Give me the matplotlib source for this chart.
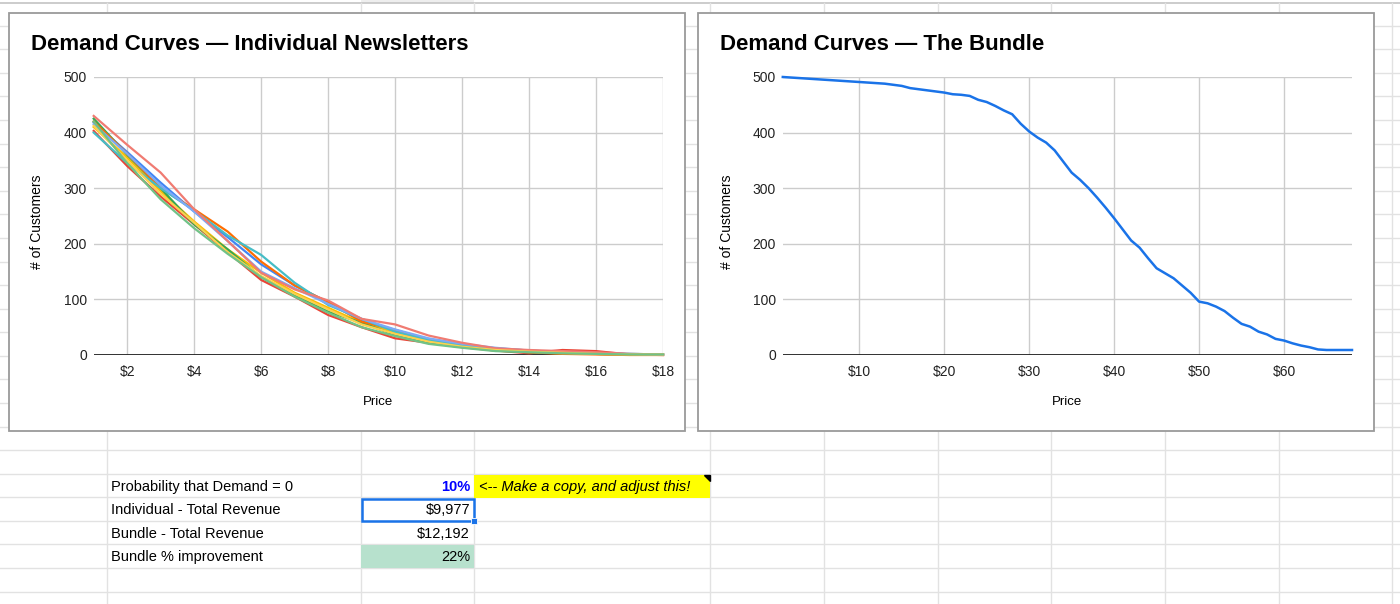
import numpy as np
import matplotlib
matplotlib.use("Agg")
import matplotlib.pyplot as plt
from matplotlib.patches import Rectangle

plt.rcParams['font.family'] = ['Liberation Sans', 'DejaVu Sans']

# ---------------- data ----------------
ind_prices = list(range(1, 19))
ind_blue = [418, 365, 310, 258, 212, 163, 125, 95, 62, 45, 28, 18, 11, 7, 4, 2, 1, 1]
ind_red = [403, 340, 285, 235, 185, 135, 105, 72, 50, 30, 22, 14, 8, 3, 9, 7, 1, 0]
ind_yellow = [410, 355, 295, 240, 190, 148, 112, 85, 58, 40, 25, 17, 10, 6, 4, 2, 1, 1]
ind_green = [425, 360, 300, 235, 190, 140, 108, 78, 58, 36, 22, 15, 8, 5, 3, 2, 1, 1]
ind_orange = [420, 362, 300, 262, 222, 168, 125, 95, 60, 45, 28, 18, 11, 5, 2, 1, 0, 0]
ind_teal = [400, 345, 300, 260, 215, 180, 130, 90, 65, 42, 27, 18, 12, 8, 5, 3, 2, 1]
ind_lightblue = [415, 362, 305, 258, 205, 150, 120, 92, 65, 46, 30, 20, 13, 8, 5, 3, 2, 1]
ind_lightred = [430, 378, 328, 262, 205, 148, 118, 98, 65, 55, 35, 22, 12, 9, 7, 5, 2, 1]
ind_lightyellow = [412, 350, 290, 238, 185, 142, 110, 82, 55, 38, 24, 15, 9, 6, 4, 2, 1, 1]
ind_lightgreen = [420, 345, 280, 228, 182, 140, 105, 76, 50, 34, 20, 13, 7, 5, 3, 2, 1, 1]

bundle_prices = list(range(1, 69))
bundle_demand = [500, 499, 498, 497, 496, 495, 494, 493, 492, 491,
                 490, 489, 488, 486, 484, 480, 478, 476, 474, 472,
                 469, 468, 466, 459, 455, 448, 440, 433, 416, 402,
                 391, 382, 368, 348, 328, 315, 300, 283, 265, 246,
                 226, 206, 193, 174, 156, 147, 138, 125, 112, 96,
                 93, 87, 79, 67, 56, 51, 42, 37, 29, 26,
                 21, 17, 14, 10, 9, 9, 9, 9]

ind_xticks = [2, 4, 6, 8, 10, 12, 14, 16, 18]
bundle_xticks = [10, 20, 30, 40, 50, 60]
yticks = [0, 100, 200, 300, 400, 500]

table_labels = ["Probability that Demand = 0", "Individual - Total Revenue",
                "Bundle - Total Revenue", "Bundle % improvement"]
table_values = ["10%", "$9,977", "$12,192", "22%"]
note_text = "<-- Make a copy, and adjust this!"

series = [
    (ind_blue, '#4285F4'), (ind_red, '#EA4335'), (ind_yellow, '#FBBC04'),
    (ind_green, '#34A853'), (ind_orange, '#FF6D01'), (ind_teal, '#46BDC6'),
    (ind_lightblue, '#7BAAF7'), (ind_lightred, '#F07B72'),
    (ind_lightyellow, '#FCD04F'), (ind_lightgreen, '#71C287'),
]

# ---------------- figure ----------------
W, H = 1400, 604
fig = plt.figure(figsize=(W / 100, H / 100), dpi=100)
fig.patch.set_facecolor('white')

bg = fig.add_axes([0, 0, 1, 1], zorder=0)
bg.set_xlim(0, W)
bg.set_ylim(H, 0)
bg.axis('off')

grid_c = '#e2e2e2'
# spreadsheet rows / columns
bg.add_patch(Rectangle((361, 0), 113, 2.5, facecolor='#eeeeee', edgecolor='none'))
bg.plot([0, W], [2.5, 2.5], color='#c4c4c4', lw=1.2)
for y in np.arange(25.7, 600, 23.58):
    bg.plot([0, W], [y, y], color=grid_c, lw=1.0)
for x in [107, 361, 474, 710, 824, 937.5, 1051, 1165, 1278.6, 1391.5]:
    bg.plot([x, x], [2.5, H], color=grid_c, lw=1.0)

# chart boxes
for x0 in [9, 698]:
    bg.add_patch(Rectangle((x0, 12.5), 676, 418.5, facecolor='white',
                           edgecolor='#9a9a9a', lw=1.3, zorder=3))

# titles
bg.text(31, 45, "Demand Curves \u2014 Individual Newsletters", fontsize=16,
        fontweight='bold', va='center', ha='left', zorder=4)
bg.text(720, 45, "Demand Curves \u2014 The Bundle", fontsize=16,
        fontweight='bold', va='center', ha='left', zorder=4)
# axis labels
bg.text(37, 222, "# of Customers", fontsize=10, rotation=90, va='center',
        ha='center', zorder=4)
bg.text(727, 222, "# of Customers", fontsize=10, rotation=90, va='center',
        ha='center', zorder=4)
bg.text(378, 402, "Price", fontsize=9.5, va='center', ha='center', zorder=4)
bg.text(1067, 402, "Price", fontsize=9.5, va='center', ha='center', zorder=4)

# ---------------- table ----------------
row_y = [487, 510, 534, 557]
for lab, val, y in zip(table_labels, table_values, row_y):
    bg.text(111, y, lab, fontsize=10.5, va='center', ha='left', zorder=4)
# green cell
bg.add_patch(Rectangle((361, 545), 113, 23, facecolor='#b7e1cd', edgecolor='none', zorder=2))
# yellow note cell
bg.add_patch(Rectangle((474, 474.5), 236, 23, facecolor='#ffff00', edgecolor='none', zorder=2))
bg.fill([704, 710, 710], [474.5, 474.5, 480.5], color='black', zorder=3)
bg.text(479, 487, note_text, fontsize=10.5, style='italic', va='center', ha='left', zorder=4)
for i, (val, y) in enumerate(zip(table_values, row_y)):
    if i == 0:
        bg.text(470, y, val, fontsize=10.5, fontweight='bold', color='#0000ff',
                va='center', ha='right', zorder=4)
    else:
        bg.text(470, y, val, fontsize=10.5, va='center', ha='right', zorder=4)
# selection box
bg.add_patch(Rectangle((362, 498.5), 112, 22.5, facecolor='none', edgecolor='#1a73e8',
                       lw=1.8, zorder=4))
bg.add_patch(Rectangle((471, 518), 6, 6, facecolor='#1a73e8', edgecolor='white',
                       lw=0.6, zorder=5))


def px_axes(x0, x1, ytop, ybot):
    return fig.add_axes([x0 / W, 1 - ybot / H, (x1 - x0) / W, (ybot - ytop) / H], zorder=5)


def style(ax, xlim, xticks):
    ax.set_xlim(*xlim)
    ax.set_ylim(0, 500)
    ax.set_xticks(xticks)
    ax.set_xticklabels([f"${t}" for t in xticks])
    ax.set_yticks(yticks)
    ax.set_yticklabels([str(t) for t in yticks])
    ax.patch.set_alpha(0)
    for s in ax.spines.values():
        s.set_visible(False)
    ax.grid(True, color='#cccccc', lw=1.0)
    ax.set_axisbelow(True)
    ax.tick_params(length=0, labelsize=10, labelcolor='#222222', pad=5)
    ax.tick_params(axis='x', pad=7)
    ax.axhline(0, color='#222222', lw=1.3, zorder=1.5)


axL = px_axes(93.7, 663, 77, 355)
style(axL, (1, 18), ind_xticks)
for vals, c in series:
    axL.plot(ind_prices, vals, color=c, lw=1.6, zorder=3, clip_on=False)

axR = px_axes(782.8, 1352, 77, 355)
style(axR, (1, 68), bundle_xticks)
axR.plot(bundle_prices, bundle_demand, color='#1a73e8', lw=1.8, zorder=3, clip_on=False)

fig.savefig("out.png", dpi=100)
